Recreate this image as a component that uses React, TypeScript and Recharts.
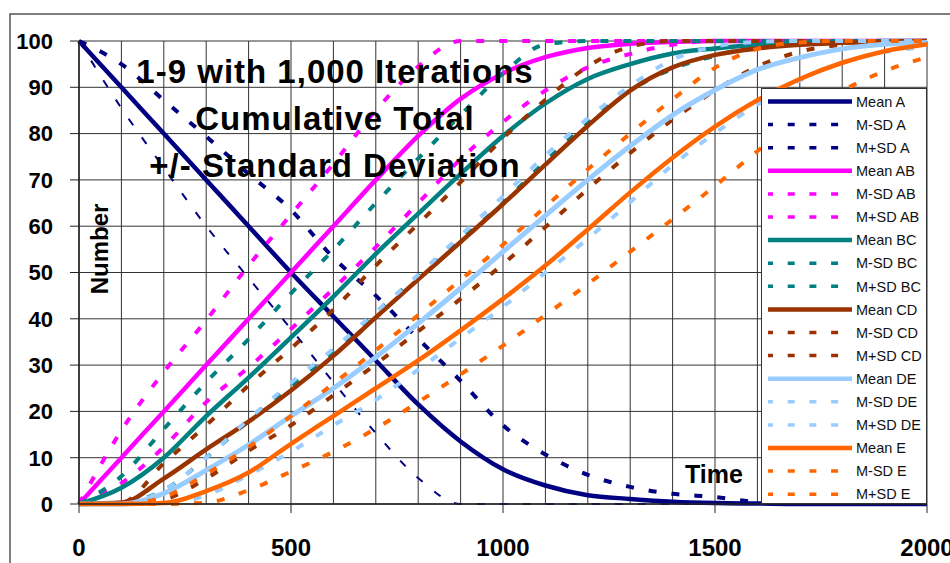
import React from 'react';
import { LineChart, Line, XAxis, YAxis, CartesianGrid, Legend } from 'recharts';

const time = [0, 100, 200, 300, 400, 500, 600, 700, 800, 900, 1000, 1100, 1200, 1300, 1400, 1500, 1600, 1700, 1800, 1900, 2000];

const meanA = [100, 90, 80, 70, 60, 50, 40.5, 31, 21.5, 13.5, 7.5, 4, 1.9, 1.1, 0.5, 0.2, 0.1, 0, 0, 0, 0];
const msdA = [100, 85.5, 72.6, 60, 48.8, 37.8, 26.3, 15.3, 5.6, 0, 0, 0, 0, 0, 0, 0, 0, 0, 0, 0, 0];
const mpsdA = [100, 95, 87.2, 79.4, 71.3, 63.5, 53.2, 45, 35.7, 26.6, 17, 10.7, 6.3, 3.7, 2.2, 1.5, 0.4, 0.1, 0, 0, 0];

const meanAB = [0, 10, 20, 30, 40, 50, 60, 70, 79.5, 87.5, 93, 96.5, 98.5, 99.4, 99.8, 100, 100, 100, 100, 100, 100];
const msdAB = [0, 4.5, 12.3, 22, 29.5, 37.8, 46.5, 55.5, 65, 74.5, 82.5, 89.3, 94.3, 97.2, 99.2, 100, 100, 100, 100, 100, 100];
const mpsdAB = [0, 15.9, 28.5, 39.7, 51.5, 62.5, 73.5, 85, 94.5, 100, 100, 100, 100, 100, 100, 100, 100, 100, 100, 100, 100];

const meanBC = [0, 3.5, 10, 19, 27.3, 36, 44.8, 54, 62.7, 71.3, 79.5, 86.5, 91.8, 95, 97.3, 98.4, 99.2, 99.6, 99.8, 100, 100];
const msdBC = [0, 0.3, 3, 10, 18, 25.5, 33, 41.3, 49.3, 57, 65, 74, 82.2, 89.3, 94, 96.8, 98.8, 99.7, 100, 100, 100];
const mpsdBC = [0, 6, 16.2, 26.3, 35.6, 45.5, 54.9, 65, 74.6, 84, 93, 99.3, 100, 100, 100, 100, 100, 100, 100, 100, 100];

const meanCD = [0, 0.3, 5.5, 11.8, 17.8, 24.5, 32, 40.3, 48.5, 56.6, 64.8, 73.3, 81.7, 89.3, 94.3, 97, 98.4, 99.2, 99.6, 99.9, 100];
const msdCD = [0, 0, 1, 5.5, 11.5, 17, 23.5, 30.2, 37.3, 44.3, 51.8, 59.8, 68, 75.8, 83, 89.3, 94.5, 97.7, 99.2, 99.8, 100];
const mpsdCD = [0, 0.3, 8.8, 17, 25.6, 33.6, 42, 51.5, 60.5, 69.5, 79, 87.3, 94.5, 98.8, 100, 100, 100, 100, 100, 100, 100];

const meanDE = [0, 0, 2.3, 7.3, 12.8, 19, 25, 31.7, 39, 46.6, 54.5, 62.3, 70, 77.3, 84, 89.4, 93.8, 96.4, 98.3, 99.3, 99.7];
const msdDE = [0, 0, 0, 1.9, 6.3, 11.3, 17, 22.5, 29, 35.8, 42.6, 50, 57.3, 65.2, 73.2, 80.1, 86.3, 91.5, 95.3, 97.6, 98.7];
const mpsdDE = [0, 0, 3, 10, 18.3, 26.2, 33.5, 41.5, 49.5, 58, 66.5, 75.3, 83.3, 90.3, 96, 98.8, 99.8, 100, 100, 100, 100];

const meanE = [0, 0, 0.2, 2.8, 6.8, 13, 19, 25, 31, 37.5, 44.3, 51.5, 59.3, 67.3, 74.8, 81.5, 87.2, 91.8, 95.3, 97.8, 99.3];
const msdE = [0, 0, 0, 0.3, 3, 7, 11.3, 16.3, 22, 28, 34.2, 40.8, 47.5, 54.5, 61.5, 68.7, 76.2, 83.2, 89.2, 93.5, 96.5];
const mpsdE = [0, 0, 1.5, 6.5, 12.3, 19, 26, 33.2, 40.8, 48.4, 56, 64.2, 72.3, 80, 87.4, 94.2, 98.3, 99.7, 100, 100, 100];

const xTicks = [0, 500, 1000, 1500, 2000];
const yTicks = [0, 10, 20, 30, 40, 50, 60, 70, 80, 90, 100];
const xDomain = [0, 2000];
const yDomain = [0, 100];
const titleLines = ['1-9 with 1,000 Iterations', 'Cumulative Total', '+/- Standard Deviation'];
const yTitle = 'Number';
const xTitle = 'Time';

const NAVY = '#000080';
const MAGENTA = '#FF00FF';
const TEAL = '#008080';
const BROWN = '#993300';
const LBLUE = '#99CCFF';
const ORANGE = '#FF6600';

type S = { key: string; name: string; values: number[]; color: string; width: number; dash?: string };

const series: S[] = [
  { key: 'meanA', name: 'Mean A', values: meanA, color: NAVY, width: 4.5 },
  { key: 'msdA', name: 'M-SD A', values: msdA, color: NAVY, width: 2, dash: '8 15' },
  { key: 'mpsdA', name: 'M+SD A', values: mpsdA, color: NAVY, width: 4, dash: '8 15' },
  { key: 'meanAB', name: 'Mean AB', values: meanAB, color: MAGENTA, width: 4.5 },
  { key: 'msdAB', name: 'M-SD AB', values: msdAB, color: MAGENTA, width: 4, dash: '8 15' },
  { key: 'mpsdAB', name: 'M+SD AB', values: mpsdAB, color: MAGENTA, width: 4, dash: '8 15' },
  { key: 'meanBC', name: 'Mean BC', values: meanBC, color: TEAL, width: 4.5 },
  { key: 'msdBC', name: 'M-SD BC', values: msdBC, color: TEAL, width: 4, dash: '8 15' },
  { key: 'mpsdBC', name: 'M+SD BC', values: mpsdBC, color: TEAL, width: 4, dash: '8 15' },
  { key: 'meanCD', name: 'Mean CD', values: meanCD, color: BROWN, width: 4.5 },
  { key: 'msdCD', name: 'M-SD CD', values: msdCD, color: BROWN, width: 4, dash: '8 15' },
  { key: 'mpsdCD', name: 'M+SD CD', values: mpsdCD, color: BROWN, width: 4, dash: '8 15' },
  { key: 'meanDE', name: 'Mean DE', values: meanDE, color: LBLUE, width: 5 },
  { key: 'msdDE', name: 'M-SD DE', values: msdDE, color: LBLUE, width: 4, dash: '8 15' },
  { key: 'mpsdDE', name: 'M+SD DE', values: mpsdDE, color: LBLUE, width: 4, dash: '8 15' },
  { key: 'meanE', name: 'Mean E', values: meanE, color: ORANGE, width: 4.5 },
  { key: 'msdE', name: 'M-SD E', values: msdE, color: ORANGE, width: 4, dash: '8 15' },
  { key: 'mpsdE', name: 'M+SD E', values: mpsdE, color: ORANGE, width: 4, dash: '8 15' },
];

const rows = time.map((t, i) => {
  const r: Record<string, number> = { t };
  series.forEach((s) => {
    r[s.key] = s.values[i];
  });
  return r;
});

const FONT = '"Liberation Sans", Arial, Helvetica, sans-serif';

const renderLegend = () => (
  <svg width={164} height={414} style={{ display: 'block' }}>
    {series.map((s, i) => {
      const y = 12.5 + 23.1 * i;
      return (
        <g key={s.key}>
          <line
            x1={6}
            x2={90}
            y1={y}
            y2={y}
            stroke={s.color}
            strokeWidth={s.dash ? 3.5 : 4.5}
            strokeDasharray={s.dash ? '7 14.7' : undefined}
            strokeDashoffset={s.dash ? 2 : undefined}
          />
          <text x={94} y={y} dy="0.36em" fontSize={14.5} fontFamily={FONT} fill="#111">
            {s.name}
          </text>
        </g>
      );
    })}
  </svg>
);

const scaleOf = (axis: any, v: number, fallback: number): number => {
  const sc = axis && axis.scale;
  if (typeof sc === 'function') return sc(v);
  if (sc && typeof sc.map === 'function') {
    const r = sc.map(v);
    if (typeof r === 'number') return r;
  }
  return fallback;
};

const vGen = (p: any) => {
  const o = p.offset || {};
  return time.map((t) =>
    scaleOf(p.xAxis, t, o.left + ((t - xDomain[0]) / (xDomain[1] - xDomain[0])) * o.width),
  );
};
const hGen = (p: any) => {
  const o = p.offset || {};
  return yTicks.map((v) =>
    scaleOf(p.yAxis, v, o.top + (1 - (v - yDomain[0]) / (yDomain[1] - yDomain[0])) * o.height),
  );
};

export default function App() {
  return (
    <div style={{ position: 'absolute', left: 0, top: 0, width: 950, height: 563, background: '#fff', overflow: 'hidden' }}>
      <LineChart width={950} height={563} data={rows} margin={{ top: 41, right: 23, left: 0, bottom: 0 }}>
        <CartesianGrid
          stroke="#333"
          strokeWidth={1}
          strokeOpacity={1}
          verticalCoordinatesGenerator={vGen}
          horizontalCoordinatesGenerator={hGen}
        />
        <XAxis
          dataKey="t"
          type="number"
          domain={xDomain}
          ticks={xTicks}
          interval={0}
          height={59}
          tickSize={9}
          tickMargin={26}
          axisLine={{ stroke: '#222', strokeWidth: 1.5 }}
          tickLine={{ stroke: '#222' }}
          tick={{ fontSize: 24, fontWeight: 'bold', fill: '#000', fontFamily: FONT }}
        />
        <YAxis
          type="number"
          domain={yDomain}
          ticks={yTicks}
          interval={0}
          width={79}
          tickSize={9}
          tickMargin={17}
          axisLine={{ stroke: '#222', strokeWidth: 1.5 }}
          tickLine={{ stroke: '#222' }}
          tick={{ fontSize: 22, fontWeight: 'bold', fill: '#000', fontFamily: FONT }}
        />
        {series.map((s) => (
          <Line
            key={s.key}
            dataKey={s.key}
            name={s.name}
            type="monotone"
            stroke={s.color}
            strokeWidth={s.width}
            strokeDasharray={s.dash}
            dot={false}
            activeDot={false}
            isAnimationActive={false}
          />
        ))}
        <Legend
          layout="vertical"
          align="center"
          verticalAlign="middle"
          content={renderLegend}
          wrapperStyle={{
            left: 761,
            top: 88,
            width: 166,
            height: 416,
            background: '#fff',
            border: '1px solid #333',
            boxSizing: 'border-box',
          }}
        />
      </LineChart>
      <svg
        width={950}
        height={563}
        style={{ position: 'absolute', left: 0, top: 0, pointerEvents: 'none' }}
      >
        <path d="M10 563 L10 14 L950 14" fill="none" stroke="#555" strokeWidth={1.5} />
        {titleLines.map((t, i) => (
          <text
            key={i}
            x={335}
            y={83 + i * 47}
            textAnchor="middle"
            fontSize={33}
            fontWeight="bold"
            letterSpacing={1}
            fontFamily={FONT}
            fill="#000"
          >
            {t}
          </text>
        ))}
        <text
          x={108}
          y={249}
          transform="rotate(-90 108 249)"
          textAnchor="middle"
          fontSize={24}
          fontWeight="bold"
          fontFamily={FONT}
          fill="#000"
        >
          {yTitle}
        </text>
        <text x={685} y={483} fontSize={25} fontWeight="bold" fontFamily={FONT} fill="#000">
          {xTitle}
        </text>
      </svg>
    </div>
  );
}
